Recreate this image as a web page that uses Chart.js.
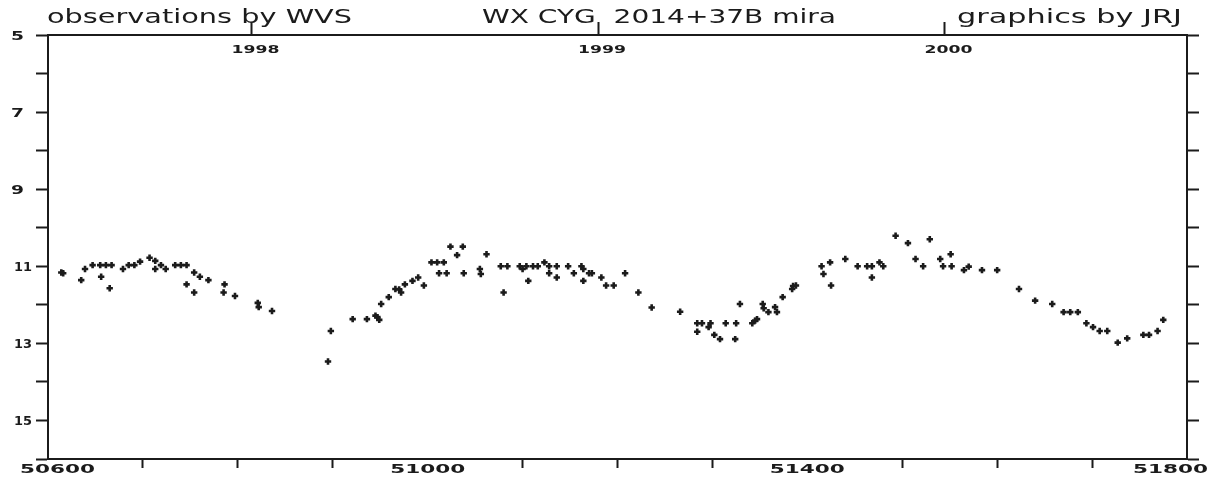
<!DOCTYPE html>
<html>
<head>
<meta charset="utf-8">
<script src="https://cdn.jsdelivr.net/npm/chart.js@4"></script>
<style>
  body { margin: 0; background: #fff; }
  #wrap { width: 1214px; height: 479px; }
</style>
</head>
<body>
<div id="wrap"><canvas id="lc" width="1214" height="479"></canvas></div>
<script>
// WX Cyg light curve, JD - 2400000 vs visual magnitude
const jd = [
  50614, 50616, 50635, 50639, 50647, 50655, 50656, 50661, 50665, 50667,
  50679, 50685, 50691, 50697, 50707, 50713, 50713, 50719, 50724, 50734,
  50740, 50746, 50746, 50754, 50754, 50760, 50769, 50785, 50786, 50797,
  50821, 50822, 50836, 50895, 50898, 50921, 50936, 50945, 50947, 50949,
  50951, 50959, 50966, 50970, 50972, 50976, 50984, 50990, 50996, 51004,
  51010, 51012, 51017, 51020, 51024, 51031, 51037, 51038, 51055, 51056,
  51062, 51077, 51080, 51084, 51097, 51100, 51104, 51106, 51111, 51116,
  51123, 51128, 51128, 51136, 51136, 51148, 51154, 51162, 51164, 51164,
  51170, 51173, 51183, 51188, 51196, 51208, 51222, 51236, 51266, 51284,
  51284, 51289, 51296, 51298, 51302, 51308, 51314, 51324, 51325, 51329,
  51342, 51345, 51347, 51353, 51354, 51359, 51366, 51368, 51374, 51384,
  51385, 51388, 51415, 51417, 51424, 51425, 51440, 51453, 51463, 51468,
  51468, 51476, 51480, 51493, 51506, 51514, 51522, 51529, 51540, 51543,
  51551, 51552, 51565, 51570, 51584, 51600, 51623, 51640, 51658, 51670,
  51677, 51685, 51694, 51701, 51708, 51716, 51727, 51737, 51754, 51760,
  51769, 51775
];
const mag = [
  11.16, 11.18, 11.36, 11.07, 10.97, 10.97, 11.27, 10.97, 11.57, 10.97,
  11.07, 10.97, 10.97, 10.88, 10.78, 10.86, 11.07, 10.97, 11.07, 10.97,
  10.97, 10.97, 11.47, 11.16, 11.68, 11.27, 11.36, 11.68, 11.47, 11.77,
  11.95, 12.06, 12.16, 13.47, 12.68, 12.37, 12.37, 12.28, 12.32, 12.39,
  11.98, 11.80, 11.59, 11.60, 11.68, 11.47, 11.38, 11.29, 11.50, 10.90,
  10.90, 11.18, 10.90, 11.18, 10.49, 10.71, 10.49, 11.18, 11.07, 11.20,
  10.69, 11.00, 11.68, 11.00, 11.00, 11.07, 11.00, 11.38, 11.00, 11.00,
  10.90, 11.00, 11.18, 11.00, 11.29, 11.00, 11.18, 11.00, 11.07, 11.38,
  11.18, 11.18, 11.29, 11.50, 11.50, 11.18, 11.68, 12.07, 12.18, 12.48,
  12.70, 12.48, 12.58, 12.48, 12.78, 12.89, 12.48, 12.89, 12.48, 11.98,
  12.48, 12.41, 12.37, 11.98, 12.09, 12.19, 12.06, 12.19, 11.80, 11.59,
  11.51, 11.50, 11.00, 11.20, 10.90, 11.50, 10.81, 11.00, 11.00, 11.00,
  11.29, 10.90, 11.00, 10.21, 10.40, 10.81, 11.00, 10.30, 10.81, 11.00,
  10.69, 11.00, 11.10, 11.01, 11.10, 11.10, 11.59, 11.89, 11.98, 12.19,
  12.19, 12.19, 12.48, 12.58, 12.68, 12.68, 12.98, 12.87, 12.78, 12.78,
  12.68, 12.39
];
const titles = ["observations by WVS", "WX CYG  2014+37B mira", "graphics by JRJ"];
const yearLabels = ["1998", "1999", "2000"];
const yearJD = [50814.5, 51179.5, 51544.5];   // Jan 1 of each year
const xLabelValues = [50600, 51000, 51400, 51800];
const yLabelValues = [5, 7, 9, 11, 13, 15];

const ink = "#1b1b1b";

// draw text squeezed/stretched into a given width (plotter font is wide)
function stretchText(ctx, text, left, base, width, font) {
  ctx.font = font;
  const m = ctx.measureText(text).width;
  ctx.save();
  ctx.translate(left, base);
  ctx.scale(width / m, 1);
  ctx.textAlign = "left";
  ctx.textBaseline = "alphabetic";
  ctx.fillText(text, 0, 0);
  ctx.restore();
}

const labelPlugin = {
  id: "plotterLabels",
  afterDraw(chart) {
    const ctx = chart.ctx;
    const xs = chart.scales.x, ys = chart.scales.y;
    ctx.save();
    ctx.fillStyle = ink;

    stretchText(ctx, titles[0], 47, 23, 305, '19px "DejaVu Sans"');
    stretchText(ctx, titles[1], 482, 23, 354, '19px "DejaVu Sans"');
    stretchText(ctx, titles[2], 957, 23, 225, '19px "DejaVu Sans"');

    xLabelValues.forEach(v => {
      const w = 75;
      let left = xs.getPixelForValue(v) - w / 2;
      left = Math.max(20, Math.min(1208 - w, left));
      stretchText(ctx, String(v), left, 473, w, 'bold 13px "DejaVu Sans"');
    });

    yearJD.forEach((v, i) => {
      const w = 48;
      stretchText(ctx, yearLabels[i], xs.getPixelForValue(v) + 4 - w / 2, 53, w, 'bold 10px "DejaVu Sans"');
    });

    yLabelValues.forEach(v => {
      const s = String(v);
      const w = s.length === 1 ? 13 : 18;
      stretchText(ctx, s, s.length === 1 ? 11 : 14, ys.getPixelForValue(v) + 4.5, w, 'bold 12px "DejaVu Sans"');
    });
    ctx.restore();
  }
};

const tickGrid = (len) => ({
  drawOnChartArea: false,
  drawTicks: true,
  tickLength: len,
  tickWidth: 2,
  tickColor: ink
});

new Chart(document.getElementById("lc"), {
  type: "scatter",
  data: {
    datasets: [{
      data: jd.map((x, i) => ({ x: x, y: mag[i] })),
      pointStyle: "cross",
      pointRadius: 3.2,
      pointBorderWidth: 2.6,
      borderColor: ink,
      backgroundColor: ink
    }]
  },
  options: {
    responsive: false,
    animation: false,
    layout: { padding: 0 },
    plugins: {
      legend: { display: false },
      tooltip: { enabled: false }
    },
    scales: {
      x: {
        type: "linear",
        position: "bottom",
        min: 50600,
        max: 51800,
        ticks: { stepSize: 100, display: false },
        grid: Object.assign(tickGrid(9), {
          tickColor: c => (c.tick && (c.tick.value - 50600) % 400 === 0) ? "rgba(0,0,0,0)" : ink
        }),
        border: { display: true, color: ink, width: 2 },
        afterFit: s => { s.height = 20; }
      },
      x2: {
        type: "linear",
        position: "top",
        min: 50600,
        max: 51800,
        ticks: { display: false },
        afterBuildTicks: s => { s.ticks = yearJD.map(v => ({ value: v })); },
        grid: tickGrid(13),
        border: { display: true, color: ink, width: 2 },
        afterFit: s => { s.height = 35; }
      },
      y: {
        type: "linear",
        position: "left",
        reverse: true,
        min: 5,
        max: 16,
        ticks: { stepSize: 1, display: false },
        grid: tickGrid(12),
        border: { display: true, color: ink, width: 2 },
        afterFit: s => { s.width = 48; }
      },
      y2: {
        type: "linear",
        position: "right",
        reverse: true,
        min: 5,
        max: 16,
        ticks: { stepSize: 1, display: false },
        grid: tickGrid(12),
        border: { display: true, color: ink, width: 2 },
        afterFit: s => { s.width = 27; }
      }
    }
  },
  plugins: [labelPlugin]
});
</script>
</body>
</html>
